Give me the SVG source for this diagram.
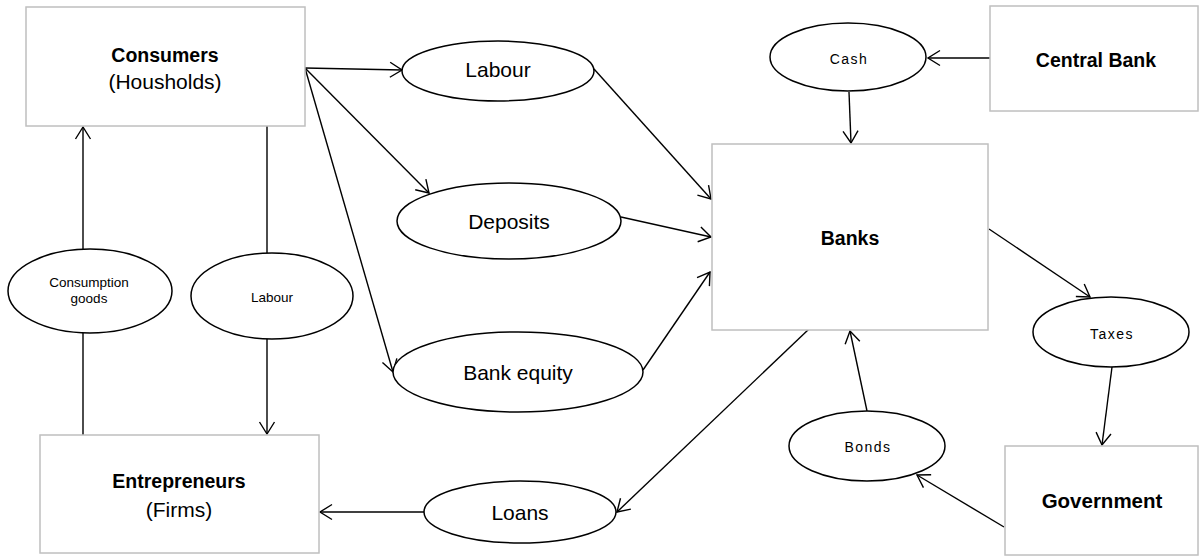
<svg xmlns="http://www.w3.org/2000/svg" width="1200" height="556" viewBox="0 0 1200 556">
<style>
.box{fill:#ffffff;stroke:#bfbfbf;stroke-width:1.5}
.ell{fill:#ffffff;stroke:#000000;stroke-width:1.5}
.ln{fill:none;stroke:#000000;stroke-width:1.4}
.arr{fill:none;stroke:#000000;stroke-width:1.4;marker-end:url(#ah)}
text{font-family:"Liberation Sans",Arial,sans-serif;fill:#000000;text-anchor:middle}
.b{font-weight:bold;font-size:19.5px}
.r{font-size:21px}
.s{font-size:13.5px}
.sp{font-size:14px;letter-spacing:1.5px}
</style>
<defs>
<marker id="ah" markerUnits="userSpaceOnUse" viewBox="-14 -10 16 20" refX="0" refY="0" markerWidth="16" markerHeight="20" orient="auto">
<path d="M-12,-7.5 L0,0 L-12,7.5" fill="none" stroke="#000000" stroke-width="1.4"/>
</marker>
</defs>
<rect width="1200" height="556" fill="#ffffff"/>
<g id="connectors">
<line class="arr" x1="305" y1="68" x2="402" y2="70"/>
<line class="arr" x1="305" y1="68" x2="429" y2="193"/>
<line class="arr" x1="305" y1="68" x2="393" y2="372"/>
<line class="arr" x1="594" y1="69" x2="711" y2="199"/>
<line class="arr" x1="621" y1="217" x2="711" y2="237"/>
<line class="arr" x1="643" y1="370" x2="710" y2="272"/>
<line class="arr" x1="990" y1="58" x2="928" y2="58"/>
<line class="arr" x1="849" y1="92" x2="851" y2="143"/>
<line class="arr" x1="989" y1="229" x2="1090" y2="297"/>
<line class="arr" x1="1112" y1="367" x2="1102" y2="445"/>
<line class="arr" x1="1004" y1="527" x2="917" y2="475"/>
<line class="arr" x1="867" y1="411" x2="850" y2="331"/>
<line class="arr" x1="809" y1="329" x2="617" y2="512"/>
<line class="arr" x1="424" y1="512" x2="320" y2="512"/>
<line class="arr" x1="83" y1="249" x2="83" y2="127"/>
<line class="ln" x1="83" y1="333" x2="83" y2="435"/>
<line class="ln" x1="267" y1="126" x2="267" y2="253"/>
<line class="arr" x1="267" y1="339" x2="267" y2="434"/>
</g>
<g id="consumers">
<rect class="box" x="26" y="7" width="279" height="119"/>
<text class="b" x="165" y="62">Consumers</text>
<text class="r" x="165" y="89">(Housholds)</text>
</g>
<g id="entrepreneurs">
<rect class="box" x="40" y="435" width="279" height="118"/>
<text class="b" x="179" y="488">Entrepreneurs</text>
<text class="r" x="179" y="517">(Firms)</text>
</g>
<g id="banks">
<rect class="box" x="712" y="144" width="276" height="186"/>
<text class="b" x="850" y="245">Banks</text>
</g>
<g id="central-bank">
<rect class="box" x="990" y="6" width="208" height="105"/>
<text class="b" x="1096" y="67">Central Bank</text>
</g>
<g id="government">
<rect class="box" x="1005" y="446" width="193" height="109"/>
<text class="b" x="1102" y="508" style="font-size:20.5px">Government</text>
</g>
<g id="labour-top">
<ellipse class="ell" cx="498" cy="71" rx="96" ry="30"/>
<text class="r" x="498" y="77">Labour</text>
</g>
<g id="deposits">
<ellipse class="ell" cx="509" cy="221" rx="112" ry="38"/>
<text class="r" x="509" y="229">Deposits</text>
</g>
<g id="bank-equity">
<ellipse class="ell" cx="518" cy="372" rx="125" ry="40"/>
<text class="r" x="518" y="380">Bank equity</text>
</g>
<g id="loans">
<ellipse class="ell" cx="520" cy="512" rx="96" ry="31"/>
<text class="r" x="520" y="520">Loans</text>
</g>
<g id="cash">
<ellipse class="ell" cx="848" cy="57" rx="78" ry="34"/>
<text class="sp" x="849" y="64">Cash</text>
</g>
<g id="taxes">
<ellipse class="ell" cx="1111" cy="332" rx="78" ry="35"/>
<text class="sp" x="1112" y="339">Taxes</text>
</g>
<g id="bonds">
<ellipse class="ell" cx="867" cy="446" rx="78" ry="35"/>
<text class="sp" x="868" y="452">Bonds</text>
</g>
<g id="consumption-goods">
<ellipse class="ell" cx="90" cy="291" rx="82" ry="42"/>
<text class="s" x="89" y="287">Consumption</text>
<text class="s" x="89" y="303">goods</text>
</g>
<g id="labour-left">
<ellipse class="ell" cx="272" cy="296" rx="81" ry="43"/>
<text class="s" x="272" y="302">Labour</text>
</g>
</svg>
